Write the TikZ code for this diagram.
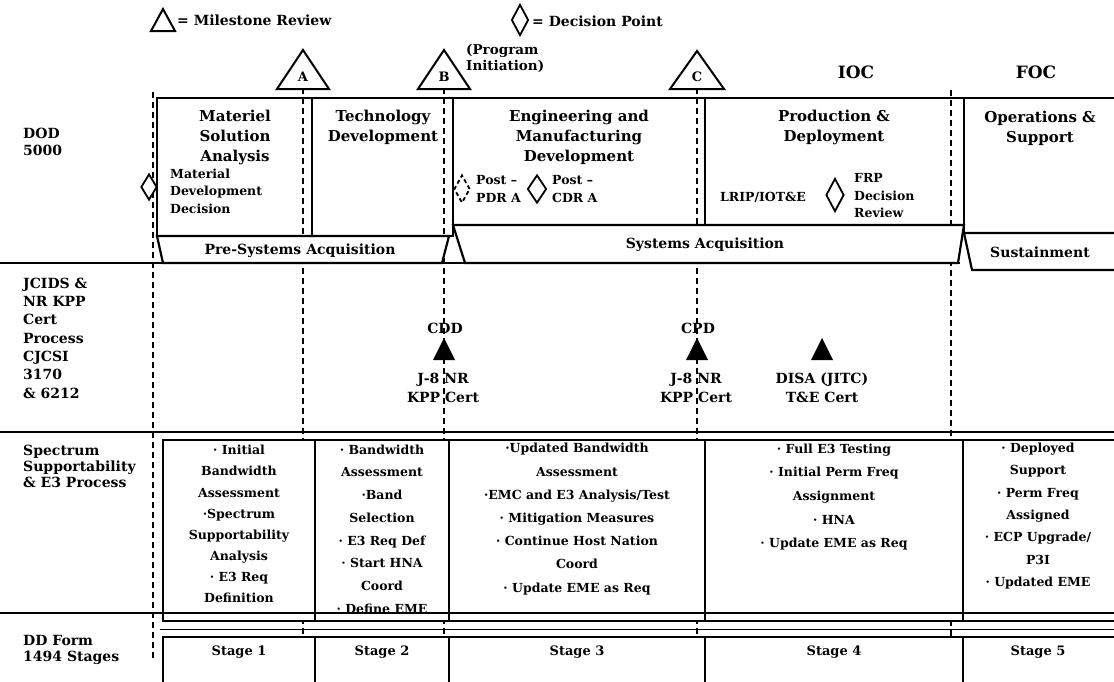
\documentclass[tikz,border=0pt]{standalone}
\usepackage{fontspec}
\setmainfont{DejaVu Serif}
\usetikzlibrary{positioning,shapes.geometric}

\begin{document}
\begin{tikzpicture}[x=1pt, y=-1pt,
  heavy/.style={line width=2.2pt},
  thinl/.style={line width=0.9pt},
  vdash/.style={line width=1.3pt, dash pattern=on 6pt off 4pt},
  mstri/.style={line width=2pt, line join=miter, fill=white},
  dpt/.style={diamond, draw, line width=1.8pt, fill=white, inner sep=0pt},
  dptdash/.style={dpt, dash pattern=on 4pt off 3pt},
  band/.style={heavy, fill=white},
  lgd/.style={font={\fontsize{14}{16}\selectfont\bfseries}, inner sep=0pt},
  rowlbl/.style={font={\fontsize{14}{17}\selectfont\bfseries}, align=left, anchor=west, inner sep=0pt},
  phase/.style={font={\fontsize{15}{20}\selectfont\bfseries}, align=center, inner sep=0pt},
  note/.style={font={\fontsize{12.5}{17.5}\selectfont\bfseries}, align=left, anchor=west, inner sep=0pt},
  msl/.style={font={\fontsize{13}{14}\selectfont\bfseries}, inner sep=0pt},
  ioc/.style={font={\fontsize{17}{20}\selectfont\bfseries}, inner sep=0pt},
  bandtxt/.style={font={\fontsize{14}{16}\selectfont\bfseries}, inner sep=0pt},
  jc/.style={font={\fontsize{14}{19}\selectfont\bfseries}, align=center, inner sep=0pt},
  spec/.style={font={\fontsize{12.5}{22}\selectfont\bfseries}, align=center, inner sep=0pt},
  stagetxt/.style={font={\fontsize{13}{15}\selectfont\bfseries}, inner sep=0pt}
]
\useasboundingbox (0,0) rectangle (1114,681);

\draw[mstri] (163,9) -- (175,31) -- (151,31) -- cycle;
\node[lgd, anchor=west] (lgdms) at (177,20) {= Milestone Review};
\node[dpt, minimum width=17pt, minimum height=31pt] (lgddp) at (520,20) {};
\node[lgd, anchor=west] (lgddpt) at (532,21) {= Decision Point};

\draw[vdash] (153,92) -- (153,660);
\draw[vdash] (303,88) -- (303,637);
\draw[vdash] (444,88) -- (444,637);
\draw[vdash] (697,88) -- (697,637);
\draw[vdash] (951,90) -- (951,637);

\draw[mstri] (303,50) -- ++(26,39) -- ++(-52,0) -- cycle;
\node[msl] (msA) at (303,77) {A};
\draw[mstri] (444,50) -- ++(26,39) -- ++(-52,0) -- cycle;
\node[msl] (msB) at (444,77) {B};
\draw[mstri] (697,51) -- ++(27,38) -- ++(-54,0) -- cycle;
\node[msl] (msC) at (697,77) {C};
\node[note, anchor=north west, font={\fontsize{13.5}{16}\selectfont\bfseries}] (progini) at (466,44) {(Program\\Initiation)};
\node[ioc] (ioc) at (856,72) {IOC};
\node[ioc] (foc) at (1036,72) {FOC};

\draw[heavy] (157,98) -- (1120,98);
\draw[heavy] (157,98) rectangle (312,236);
\draw[heavy] (312,98) rectangle (453,236);
\draw[heavy] (453,98) rectangle (705,225);
\draw[heavy] (705,98) rectangle (964,225);
\draw[heavy] (964,98) rectangle (1120,233);

\node[rowlbl] (dod) at (23,142) {DOD\\5000};
\node[phase] (ttlmat) at (235,137) {Materiel\\Solution\\Analysis};
\node[note] (mdd) at (170,191) {Material\\Development\\Decision};
\node[dpt, minimum width=16pt, minimum height=26pt] (dpmdd) at (149,187) {};
\node[phase] (ttltech) at (383,127) {Technology\\Development};
\node[phase] (ttleng) at (579,137) {Engineering and\\Manufacturing\\Development};
\node[dptdash, minimum width=16pt, minimum height=28pt] (dppdr) at (462,189) {};
\node[note] (pdr) at (476,189) {Post –\\PDR A};
\node[dpt, minimum width=19pt, minimum height=28pt] (dpcdr) at (537,189) {};
\node[note] (cdr) at (552,189) {Post –\\CDR A};
\node[phase] (ttlprod) at (834,127) {Production \&\\Deployment};
\node[note, anchor=center] (lrip) at (763,197) {LRIP/IOT\&E};
\node[dpt, minimum width=18pt, minimum height=33pt] (dpfrp) at (835,195) {};
\node[note] (frp) at (854,196) {FRP\\Decision\\Review};
\node[phase] (ttlops) at (1040,128) {Operations \&\\Support};

\draw[heavy] (0,263) -- (960,263);
\draw[band] (157,236) -- (449,236) -- (442,263) -- (163,263) -- cycle;
\draw[band] (453,225) -- (964,225) -- (958,263) -- (465,263) -- cycle;
\draw[band] (964,233) -- (1120,233) -- (1120,270) -- (972,270) -- cycle;
\node[bandtxt] (presys) at (300,251) {Pre-Systems Acquisition};
\node[bandtxt] (sysacq) at (705,245) {Systems Acquisition};
\node[bandtxt] (sust) at (1040,252) {Sustainment};

\node[rowlbl, font={\fontsize{14}{18.3}\selectfont\bfseries}] (jcids) at (23,338) {JCIDS \&\\NR KPP\\Cert\\Process\\CJCSI\\3170\\\& 6212};
\node[jc] (cdd) at (445,328) {CDD};
\fill (444,338) -- (455,360) -- (433,360) -- cycle;
\node[jc] (cddcert) at (443,388) {J-8 NR\\KPP Cert};
\node[jc] (cpd) at (698,328) {CPD};
\fill (697,338) -- (708,360) -- (686,360) -- cycle;
\node[jc] (cpdcert) at (696,388) {J-8 NR\\KPP Cert};
\fill (822,338) -- (833,360) -- (811,360) -- cycle;
\node[jc] (disa) at (822,388) {DISA (JITC)\\T\&E Cert};

\draw[heavy] (0,432) -- (1120,432);
\draw[heavy, fill=white] (163,440) rectangle (1120,621);
\foreach \xd in {315,449,705,963}
  \draw[heavy] (\xd,440) -- (\xd,621);
\node[rowlbl, font={\fontsize{14}{16}\selectfont\bfseries}] (spectrum) at (23,466) {Spectrum\\Supportability\\\& E3 Process};
\node[spec, font={\fontsize{12.5}{21.1}\selectfont\bfseries}] (spc1) at (239,524) {· Initial\\Bandwidth\\Assessment\\·Spectrum\\Supportability\\Analysis\\· E3 Req\\Definition};
\node[spec, font={\fontsize{12.5}{22.7}\selectfont\bfseries}] (spc2) at (382,529) {· Bandwidth\\Assessment\\·Band\\Selection\\· E3 Req Def\\· Start HNA\\Coord\\· Define EME};
\node[spec, font={\fontsize{12.5}{23.2}\selectfont\bfseries}] (spc3) at (577,519) {·Updated Bandwidth\\Assessment\\·EMC and E3 Analysis/Test\\· Mitigation Measures\\· Continue Host Nation\\Coord\\· Update EME as Req};
\node[spec, font={\fontsize{12.5}{23.7}\selectfont\bfseries}] (spc4) at (834,497) {· Full E3 Testing\\· Initial Perm Freq\\Assignment\\· HNA\\· Update EME as Req};
\node[spec, font={\fontsize{12.5}{22.3}\selectfont\bfseries}] (spc5) at (1038,516) {· Deployed\\Support\\· Perm Freq\\Assigned\\· ECP Upgrade/\\P3I\\· Updated EME};
\draw[heavy] (0,613) -- (1120,613);

\draw[thinl] (160,629) -- (1120,629);
\draw[heavy, fill=white] (163,637) rectangle (1120,690);
\foreach \xd in {315,449,705,963}
  \draw[heavy] (\xd,637) -- (\xd,690);
\node[rowlbl, font={\fontsize{14}{16}\selectfont\bfseries}] (ddform) at (23,650) {DD Form\\1494 Stages};
\node[stagetxt] (stg1) at (239,652) {Stage 1};
\node[stagetxt] (stg2) at (382,652) {Stage 2};
\node[stagetxt] (stg3) at (577,652) {Stage 3};
\node[stagetxt] (stg4) at (834,652) {Stage 4};
\node[stagetxt] (stg5) at (1038,652) {Stage 5};

\end{tikzpicture}
\end{document}
